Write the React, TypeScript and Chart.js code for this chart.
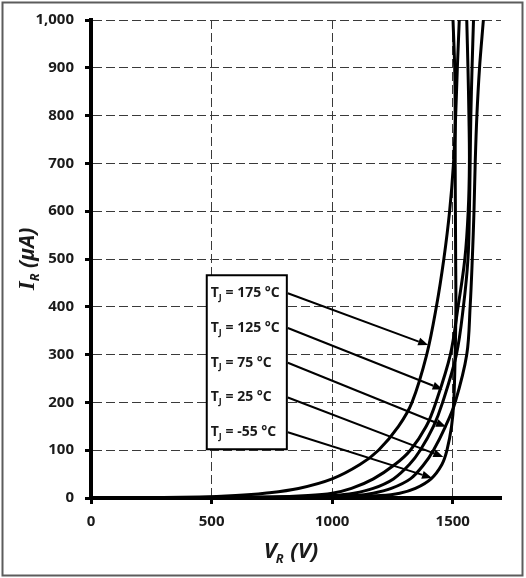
// Reverse characteristics chart (I_R vs V_R)
import { useEffect, useRef } from 'react';
import { Chart, registerables } from 'chart.js';

Chart.register(...registerables);

// reverse current levels (µA) shared by every curve
const currentLevels = [0, 2, 5, 10, 20, 40, 70, 100, 150, 200, 300, 400, 500, 600, 700, 800, 900, 1000];

// reverse voltage (V) at each current level, per junction temperature
const vr175 = [0, 450, 600, 720, 860, 1000, 1115, 1192, 1275, 1331, 1392, 1432, 1463, 1487, 1503, 1512, 1519, 1527];
const vr125 = [0, 750, 900, 1000, 1080, 1171, 1260, 1324, 1390, 1430, 1490, 1522, 1550, 1564, 1569, 1567, 1563, 1558];
const vr75 = [0, 850, 1000, 1090, 1170, 1254, 1320, 1365, 1420, 1458, 1515, 1544, 1563, 1569, 1572, 1575, 1580, 1586];
const vr25 = [0, 950, 1090, 1170, 1245, 1324, 1380, 1420, 1470, 1510, 1558, 1572, 1581, 1588, 1593, 1600, 1611, 1627];
const vrm55 = [0, 1050, 1200, 1280, 1345, 1410, 1455, 1476, 1495, 1504, 1510, 1513, 1512, 1511, 1510, 1510, 1508, 1501];

const temperatures = ['175', '125', '75', '25', '-55'];
const curves = [vr175, vr125, vr75, vr25, vrm55];

const xTicks = [0, 500, 1000, 1500];

// label box corners (V, µA) and the points the arrows touch
const boxV = [480, 812];
const boxI = [102, 466];
const arrowTipV = [1398, 1458, 1472, 1461, 1414];
const arrowTipI = [320, 227, 149, 86, 42];

const FONT = '"Open Sans", "Noto Sans", sans-serif';
const TEXT = '#1a1a1a';

const overlay = {
  id: 'overlay',
  afterDraw(chart: any) {
    const { ctx, chartArea } = chart;
    const x = chart.scales.x;
    const y = chart.scales.y;
    ctx.save();

    // outer frame
    ctx.strokeStyle = '#5c5c5c';
    ctx.lineWidth = 2;
    ctx.strokeRect(2.5, 2.5, 520, 573);

    ctx.fillStyle = TEXT;
    ctx.textBaseline = 'alphabetic';
    ctx.textAlign = 'left';

    // x axis title: V_R (V)
    const big = 'bold italic 22px ' + FONT;
    const sub = 'bold italic 13px ' + FONT;
    ctx.font = big;
    const wV = ctx.measureText('V').width;
    const wRest = ctx.measureText(' (V)').width;
    ctx.font = sub;
    const wR = ctx.measureText('R').width;
    const cx = (chartArea.left + chartArea.right) / 2 - 5 - (wV + wR + wRest) / 2;
    ctx.font = big;
    ctx.fillText('V', cx, 558);
    ctx.font = sub;
    ctx.fillText('R', cx + wV - 1, 563);
    ctx.font = big;
    ctx.fillText(' (V)', cx + wV + wR, 558);

    // y axis title: I_R (µA)
    ctx.save();
    ctx.translate(34, (chartArea.top + chartArea.bottom) / 2);
    ctx.rotate(-Math.PI / 2);
    const serif = 'bold italic 23px "Liberation Serif", serif';
    const yBig = 'bold italic 21px ' + FONT;
    ctx.font = serif;
    const wI = ctx.measureText('I').width;
    ctx.font = yBig;
    const wUnit = ctx.measureText(' (µA)').width;
    ctx.font = sub;
    const wR2 = ctx.measureText('R').width;
    const sx = -(wI + wR2 + wUnit) / 2;
    ctx.font = serif;
    ctx.fillText('I', sx, 0);
    ctx.font = sub;
    ctx.fillText('R', sx + wI, 5);
    ctx.font = yBig;
    ctx.fillText(' (µA)', sx + wI + wR2, 0);
    ctx.restore();

    // label box
    const bx1 = x.getPixelForValue(boxV[0]);
    const bx2 = x.getPixelForValue(boxV[1]);
    const by1 = y.getPixelForValue(boxI[1]);
    const by2 = y.getPixelForValue(boxI[0]);
    ctx.fillStyle = '#fff';
    ctx.fillRect(bx1, by1, bx2 - bx1, by2 - by1);
    ctx.strokeStyle = '#000';
    ctx.lineWidth = 2;
    ctx.strokeRect(bx1, by1, bx2 - bx1, by2 - by1);

    const step = (by2 - by1 - 35) / 4;
    const lbl = 'bold 14px ' + FONT;
    const lblSub = 'bold 9px ' + FONT;
    temperatures.forEach((t, i) => {
      const ty = by1 + 18 + i * step;
      ctx.fillStyle = TEXT;
      ctx.textBaseline = 'middle';
      ctx.font = lbl;
      let tx = bx1 + 4;
      ctx.fillText('T', tx, ty);
      tx += ctx.measureText('T').width;
      ctx.font = lblSub;
      ctx.fillText('J', tx, ty + 4);
      tx += ctx.measureText('J').width;
      ctx.font = lbl;
      ctx.fillText(' = ' + t + ' °C', tx, ty);

      // arrow from the box edge to the curve
      const x0 = bx2 + 1;
      const x1 = x.getPixelForValue(arrowTipV[i]);
      const y1 = y.getPixelForValue(arrowTipI[i]);
      const ang = Math.atan2(y1 - ty, x1 - x0);
      const head = 10;
      const hw = 4;
      const baseX = x1 - head * Math.cos(ang);
      const baseY = y1 - head * Math.sin(ang);
      ctx.strokeStyle = '#000';
      ctx.lineWidth = 2;
      ctx.beginPath();
      ctx.moveTo(x0, ty);
      ctx.lineTo(baseX, baseY);
      ctx.stroke();
      ctx.fillStyle = '#000';
      ctx.beginPath();
      ctx.moveTo(x1, y1);
      ctx.lineTo(baseX + hw * Math.sin(ang), baseY - hw * Math.cos(ang));
      ctx.lineTo(baseX - hw * Math.sin(ang), baseY + hw * Math.cos(ang));
      ctx.closePath();
      ctx.fill();
    });

    ctx.restore();
  }
};

export default function App() {
  const chartRef = useRef<HTMLCanvasElement>(null);
  const chartInstance = useRef<Chart | null>(null);

  useEffect(() => {
    if (!chartRef.current) return;
    const ctx = chartRef.current.getContext('2d');
    if (!ctx) return;

    const gridColor = (c: any) => (c.tick && c.tick.value === 0 ? 'rgba(0,0,0,0)' : '#3a3a3a');

    chartInstance.current = new Chart(ctx, {
      type: 'line',
      data: {
        datasets: curves.map((vr, i) => ({
          label: 'TJ = ' + temperatures[i] + ' °C',
          data: vr.map((v, k) => ({ x: v, y: currentLevels[k] })),
          borderColor: '#000',
          borderWidth: 3,
          pointRadius: 0,
          tension: 0.35,
          fill: false
        }))
      },
      options: {
        animation: false,
        responsive: false,
        layout: { padding: { top: 20, right: 25, left: 0, bottom: 0 } },
        plugins: {
          legend: { display: false },
          tooltip: { enabled: false }
        },
        scales: {
          x: {
            type: 'linear',
            min: 0,
            max: 1700,
            afterBuildTicks: (axis: any) => {
              axis.ticks = xTicks.map(v => ({ value: v }));
            },
            afterFit: (axis: any) => {
              axis.height = 80;
            },
            grid: {
              color: gridColor,
              lineWidth: 1,
              tickColor: '#000',
              tickWidth: 3,
              tickLength: 6
            },
            border: { display: true, color: '#000', width: 4, dash: [9, 4] },
            ticks: {
              padding: 9,
              color: TEXT,
              font: { family: FONT, size: 15, weight: 'bold' },
              callback: (v: any) => String(v)
            }
          },
          y: {
            type: 'linear',
            min: 0,
            max: 1000,
            afterFit: (axis: any) => {
              axis.width = 91;
            },
            grid: {
              color: gridColor,
              lineWidth: 1,
              tickColor: '#000',
              tickWidth: 3,
              tickLength: 6
            },
            border: { display: true, color: '#000', width: 4, dash: [9, 4] },
            ticks: {
              stepSize: 100,
              padding: 11,
              color: TEXT,
              font: { family: FONT, size: 15, weight: 'bold' },
              callback: (v: any) => Number(v).toLocaleString('en-US')
            }
          }
        }
      },
      plugins: [overlay]
    });

    return () => {
      if (chartInstance.current) {
        chartInstance.current.destroy();
        chartInstance.current = null;
      }
    };
  }, []);

  return (
    <div style={{ position: 'fixed', left: 0, top: 0, width: 526, height: 578, background: '#fff' }}>
      <canvas ref={chartRef} width={526} height={578} style={{ display: 'block' }}></canvas>
    </div>
  );
}
